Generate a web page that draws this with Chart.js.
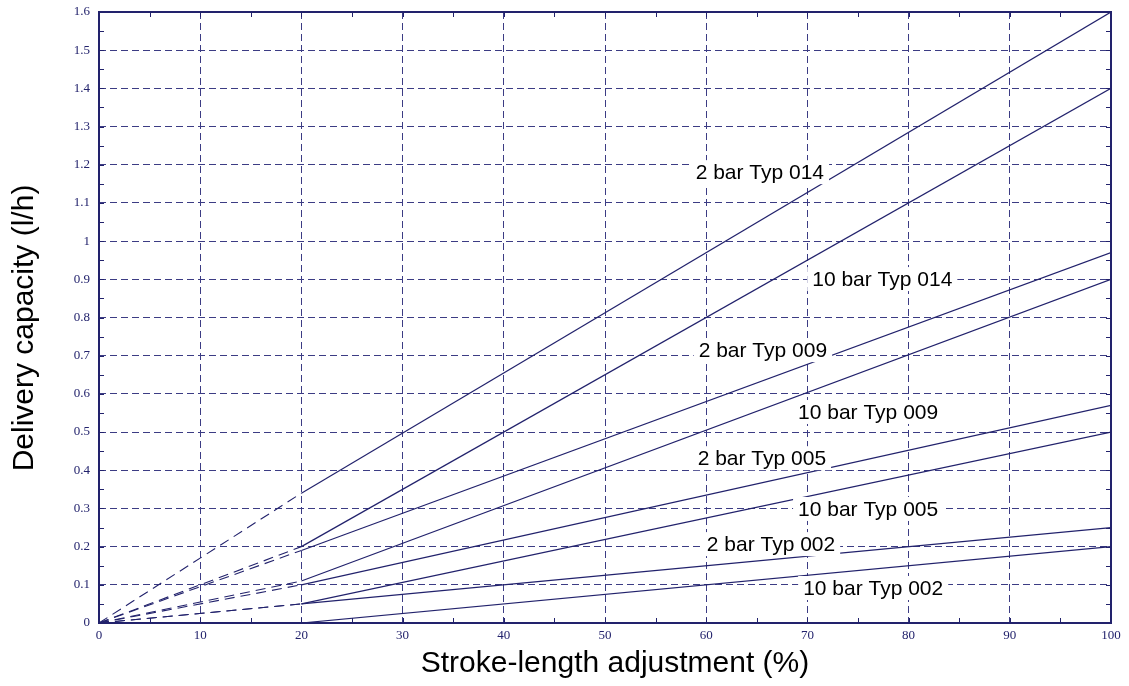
<!DOCTYPE html>
<html>
<head>
<meta charset="utf-8">
<script src="https://cdn.jsdelivr.net/npm/chart.js@4.4.1/dist/chart.umd.min.js"></script>
<style>
  html, body { margin: 0; padding: 0; background: #ffffff; }
  canvas { display: block; }
</style>
</head>
<body>
<canvas id="chart" width="1129" height="686"></canvas>
<script>
// Pump delivery curves: solid between 20 % and 100 % stroke, dashed extrapolation to the origin
const seriesNames = [
  '2 bar Typ 014', '10 bar Typ 014',
  '2 bar Typ 009', '10 bar Typ 009',
  '2 bar Typ 005', '10 bar Typ 005',
  '2 bar Typ 002', '10 bar Typ 002'
];
const strokeRange = [20, 100];                                   // stroke-length adjustment (%)
const capacityAtMinStroke = [0.34, 0.20, 0.19, 0.11, 0.10, 0.05, 0.05, 0.00]; // l/h at 20 %
const capacityAtMaxStroke = [1.60, 1.40, 0.97, 0.90, 0.57, 0.50, 0.25, 0.20]; // l/h at 100 %

const xTickLabels = ['0', '10', '20', '30', '40', '50', '60', '70', '80', '90', '100'];
const yTickLabels = ['0', '0.1', '0.2', '0.3', '0.4', '0.5', '0.6', '0.7', '0.8',
                     '0.9', '1', '1.1', '1.2', '1.3', '1.4', '1.5', '1.6'];

// Where each curve name sits (stroke %, l/h)
const labelPlacement = [
  [65.3, 1.178], [77.4, 0.898],
  [65.6, 0.712], [76.0, 0.550],
  [65.5, 0.429], [76.0, 0.296],
  [66.4, 0.204], [76.5, 0.089]
];

const NAVY = '#22226c';
const GRID = '#3c3c84';
const SERIF = '"Liberation Serif", "Times New Roman", serif';
const SANS = '"Liberation Sans", Arial, sans-serif';

const datasets = [];
seriesNames.forEach((name, i) => {
  datasets.push({
    label: name,
    data: [
      { x: strokeRange[0], y: capacityAtMinStroke[i] },
      { x: strokeRange[1], y: capacityAtMaxStroke[i] }
    ],
    borderColor: NAVY,
    borderWidth: 1.2,
    pointRadius: 0,
    tension: 0
  });
  if (capacityAtMinStroke[i] > 0) {
    datasets.push({
      label: name + ' (extrapolated)',
      data: [
        { x: 0, y: 0 },
        { x: strokeRange[0], y: capacityAtMinStroke[i] }
      ],
      borderColor: NAVY,
      borderWidth: 1.1,
      borderDash: [10, 6],
      pointRadius: 0,
      tension: 0
    });
  }
});

// Curve names on white plates, axis titles, frame and inward minor ticks
const decorations = {
  id: 'decorations',
  afterDatasetsDraw(chart) {
    const { ctx, scales: { x, y } } = chart;
    ctx.save();
    ctx.font = '21px ' + SANS;
    ctx.textAlign = 'center';
    ctx.textBaseline = 'middle';
    labelPlacement.forEach((p, i) => {
      const px = x.getPixelForValue(p[0]);
      const py = y.getPixelForValue(p[1]);
      const w = ctx.measureText(seriesNames[i]).width;
      ctx.fillStyle = '#ffffff';
      ctx.fillRect(px - w / 2 - 5, py - 13, w + 10, 24);
      ctx.fillStyle = '#000000';
      ctx.fillText(seriesNames[i], px, py);
    });
    ctx.restore();
  },
  afterDraw(chart) {
    const { ctx, chartArea: a, scales: { x, y } } = chart;
    ctx.save();
    // frame
    ctx.strokeStyle = NAVY;
    ctx.lineWidth = 2;
    ctx.setLineDash([]);
    ctx.strokeRect(a.left, a.top, a.right - a.left, a.bottom - a.top);
    // inward minor ticks
    ctx.lineWidth = 1;
    ctx.beginPath();
    for (let v = 5; v < 100; v += 5) {
      const px = Math.round(x.getPixelForValue(v)) + 0.5;
      ctx.moveTo(px, a.bottom); ctx.lineTo(px, a.bottom - 5);
      ctx.moveTo(px, a.top); ctx.lineTo(px, a.top + 5);
    }
    for (let k = 1; k < 32; k++) {
      const py = Math.round(y.getPixelForValue(k * 0.05)) + 0.5;
      ctx.moveTo(a.left, py); ctx.lineTo(a.left + 5, py);
      ctx.moveTo(a.right, py); ctx.lineTo(a.right - 5, py);
    }
    ctx.stroke();
    // axis titles
    ctx.fillStyle = '#000000';
    ctx.textAlign = 'center';
    ctx.textBaseline = 'middle';
    ctx.font = '30px ' + SANS;
    ctx.fillText('Stroke-length adjustment (%)', 615, 664);
    ctx.translate(25, 328);
    ctx.rotate(-Math.PI / 2);
    ctx.fillText('Delivery capacity (l/h)', 0, 0);
    ctx.restore();
  }
};

new Chart(document.getElementById('chart'), {
  type: 'line',
  data: { datasets },
  options: {
    responsive: false,
    devicePixelRatio: 1,
    animation: false,
    layout: { padding: { left: 0, top: 12, right: 18, bottom: 0 } },
    plugins: {
      legend: { display: false },
      tooltip: { enabled: false },
      title: { display: false }
    },
    scales: {
      x: {
        type: 'linear',
        min: 0,
        max: 100,
        afterFit(scale) {
          scale.height = 63;
          scale.paddingLeft = 0;
          scale.paddingRight = 0;
        },
        ticks: {
          stepSize: 10,
          autoSkip: false,
          maxRotation: 0,
          padding: 5,
          color: NAVY,
          font: { family: SERIF, size: 13 },
          callback: (v, i) => xTickLabels[i]
        },
        grid: { color: GRID, lineWidth: 1, drawTicks: false },
        border: { display: false, dash: [7, 4] }
      },
      y: {
        type: 'linear',
        min: 0,
        max: 1.6,
        afterFit(scale) {
          scale.width = 99;
          scale.paddingTop = 0;
          scale.paddingBottom = 0;
        },
        ticks: {
          stepSize: 0.1,
          autoSkip: false,
          padding: 9,
          color: NAVY,
          font: { family: SERIF, size: 13 },
          callback: (v, i) => yTickLabels[i]
        },
        grid: { color: GRID, lineWidth: 1, drawTicks: false },
        border: { display: false, dash: [7, 4] }
      }
    }
  },
  plugins: [decorations]
});
</script>
</body>
</html>
